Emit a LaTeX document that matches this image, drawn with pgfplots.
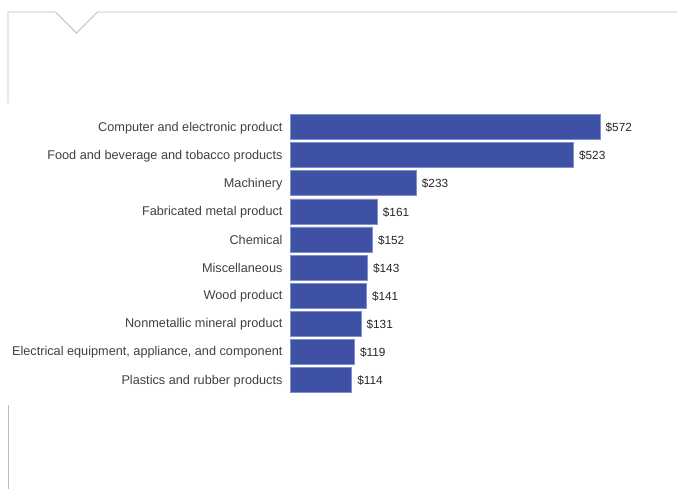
\documentclass[border=0pt]{standalone}
\usepackage{pgfplots}
\pgfplotsset{compat=1.18}
\usepackage{fontspec}
\setmainfont{Liberation Sans}
\definecolor{barblue}{HTML}{3F51A5}
\definecolor{baredge}{HTML}{7F8FD0}
\definecolor{framegray}{HTML}{BDBDBD}
\definecolor{labelgray}{HTML}{404040}
\begin{document}
\begin{tikzpicture}[x=1bp,y=1bp]
\path[use as bounding box] (0,0) rectangle (677,489);
% frame
\draw[framegray,line width=0.8bp] (8,386) -- (8,477) -- (55.5,477) -- (76.5,456) -- (97.5,477) -- (677,477);
\draw[framegray,line width=0.8bp] (8,84) -- (8,0);
\begin{axis}[
  at={(290bp,95bp)}, anchor=south west,
  scale only axis, width=310bp, height=281bp,
  xbar, bar width=25bp,
  xmin=0, xmax=572, ymin=-0.5, ymax=9.5,
  y dir=reverse,
  axis line style={draw=none},
  xtick=\empty,
  clip=false,
  ytick=data,
  yticklabels={Computer and electronic product,Food and beverage and tobacco products,Machinery,Fabricated metal product,Chemical,Miscellaneous,Wood product,Nonmetallic mineral product,{Electrical equipment, appliance, and component},Plastics and rubber products},
  yticklabel style={font=\fontsize{12.7bp}{14bp}\selectfont, text=labelgray, xshift=-4bp, yshift=-0.8bp},
  major tick length=0pt,
  /pgf/number format/assume math mode=true,
  nodes near coords={\$\pgfmathprintnumber{\pgfplotspointmeta}},
  nodes near coords style={font=\fontsize{11.8bp}{13bp}\selectfont, text=black!85, anchor=west, xshift=2bp, yshift=-0.8bp},
  point meta=x,
]
\addplot[fill=barblue, draw=baredge, line width=0.6bp] coordinates {
(572,0) (523,1) (233,2) (161,3) (152,4) (143,5) (141,6) (131,7) (119,8) (114,9)};
\end{axis}
\end{tikzpicture}
\end{document}
